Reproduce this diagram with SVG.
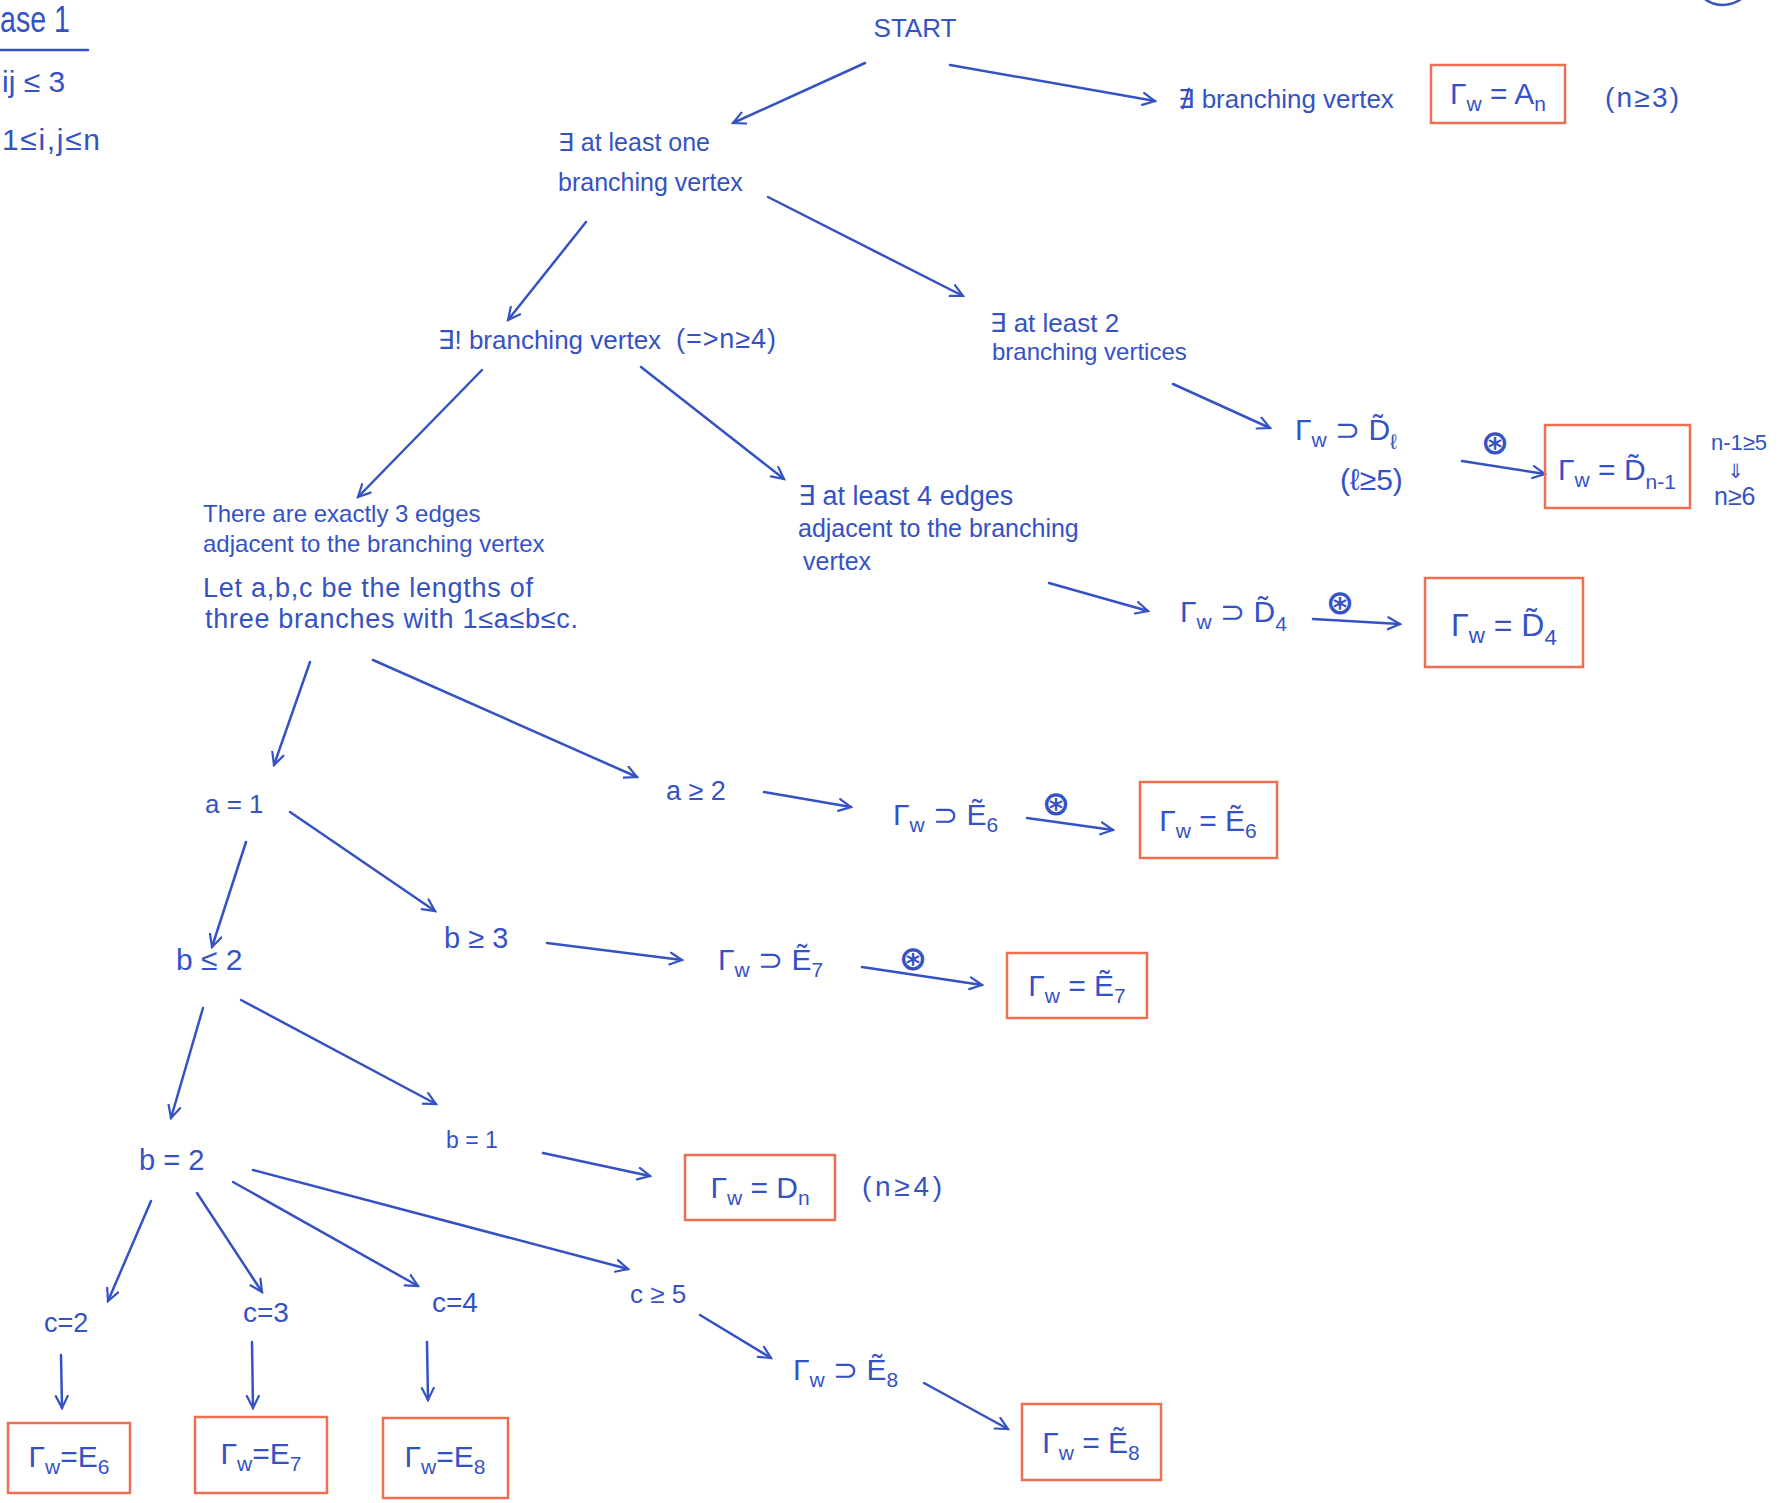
<svg xmlns="http://www.w3.org/2000/svg" width="1785" height="1503" viewBox="0 0 1785 1503">
<defs>
<style>
.t{font-family:"Liberation Sans","DejaVu Sans",sans-serif;fill:#3552c4}
.m{font-size:30px}
.s{font-size:70%}
.st{font-family:"DejaVu Sans",sans-serif;fill:#3552c4;font-size:34px;font-weight:bold}
.box{fill:none;stroke:#ee6f50;stroke-width:2.5}
.c{stroke:#3552c4;stroke-width:2.5;fill:none;stroke-linecap:round;marker-end:url(#ah)}
.ln{stroke:#3552c4;stroke-width:2.5;fill:none;stroke-linecap:round}
</style>
<marker id="ah" markerUnits="userSpaceOnUse" markerWidth="16" markerHeight="16" refX="13" refY="7" orient="auto">
<path d="M1,1 L13,7 L1,13" fill="none" stroke="#3552c4" stroke-width="2.2" stroke-linecap="round"/>
</marker>
</defs>
<rect width="1785" height="1503" fill="#ffffff"/>

<g id="case-header">
<text class="t" x="0" y="32" style="font-size:36px" textLength="70" lengthAdjust="spacingAndGlyphs">ase 1</text>
<line class="ln" x1="0" y1="50" x2="88" y2="50"/>
<text class="t" x="2" y="92" style="font-size:30px">ij ≤ 3</text>
<text class="t" x="2" y="150" style="font-size:30px" textLength="98">1≤i,j≤n</text>
<path class="ln" d="M1706,0 Q1722,10 1740,0"/>
</g>

<g id="connectors">
<line class="c" x1="865" y1="63" x2="733" y2="123"/>
<line class="c" x1="950" y1="65" x2="1155" y2="101"/>
<line class="c" x1="586" y1="222" x2="508" y2="320"/>
<line class="c" x1="768" y1="197" x2="963" y2="296"/>
<line class="c" x1="1173" y1="384" x2="1270" y2="428"/>
<line class="c" x1="1462" y1="461" x2="1545" y2="474"/>
<line class="c" x1="482" y1="370" x2="358" y2="497"/>
<line class="c" x1="641" y1="367" x2="784" y2="479"/>
<line class="c" x1="1049" y1="583" x2="1148" y2="611"/>
<line class="c" x1="1313" y1="619" x2="1400" y2="624"/>
<line class="c" x1="310" y1="662" x2="274" y2="765"/>
<line class="c" x1="373" y1="660" x2="637" y2="777"/>
<line class="c" x1="764" y1="792" x2="851" y2="807"/>
<line class="c" x1="1027" y1="818" x2="1113" y2="830"/>
<line class="c" x1="246" y1="842" x2="212" y2="947"/>
<line class="c" x1="290" y1="812" x2="435" y2="911"/>
<line class="c" x1="547" y1="943" x2="682" y2="960"/>
<line class="c" x1="862" y1="967" x2="982" y2="985"/>
<line class="c" x1="203" y1="1008" x2="171" y2="1118"/>
<line class="c" x1="241" y1="1000" x2="436" y2="1104"/>
<line class="c" x1="543" y1="1153" x2="650" y2="1176"/>
<line class="c" x1="151" y1="1201" x2="108" y2="1301"/>
<line class="c" x1="197" y1="1193" x2="262" y2="1292"/>
<line class="c" x1="233" y1="1182" x2="418" y2="1286"/>
<line class="c" x1="253" y1="1170" x2="628" y2="1269"/>
<line class="c" x1="61" y1="1355" x2="62" y2="1408"/>
<line class="c" x1="252" y1="1342" x2="253" y2="1408"/>
<line class="c" x1="427" y1="1342" x2="428" y2="1400"/>
<line class="c" x1="700" y1="1315" x2="771" y2="1358"/>
<line class="c" x1="924" y1="1383" x2="1008" y2="1429"/>
<text class="st" x="1495" y="454" text-anchor="middle">⊛</text>
<text class="st" x="1340" y="614" text-anchor="middle">⊛</text>
<text class="st" x="1056" y="815" text-anchor="middle">⊛</text>
<text class="st" x="913" y="970" text-anchor="middle">⊛</text>
</g>

<g id="start"><text class="t" x="915" y="37" text-anchor="middle" style="font-size:26px">START</text></g>

<g id="no-branching">
<text class="t" x="1178" y="108" style="font-size:26px">∄ branching vertex</text>
</g>
<g id="box-An">
<rect class="box" x="1431" y="65" width="134" height="58"/>
<text class="t m" x="1498" y="104" text-anchor="middle">Γ<tspan class="s" dy="7">w</tspan><tspan dy="-7"> = A</tspan><tspan class="s" dy="7">n</tspan></text>
<text class="t" x="1605" y="107" style="font-size:28px" textLength="74">(n≥3)</text>
</g>

<g id="at-least-one">
<text class="t" x="558" y="151" style="font-size:25px">∃ at least one</text>
<text class="t" x="558" y="191" style="font-size:25px">branching vertex</text>
</g>

<g id="unique-branching">
<text class="t" x="438" y="349" style="font-size:26px">∃! branching vertex</text>
<text class="t" x="676" y="348" style="font-size:27px" textLength="100">(=&gt;n≥4)</text>
</g>

<g id="at-least-two">
<text class="t" x="990" y="332" style="font-size:26px">∃ at least 2</text>
<text class="t" x="992" y="360" style="font-size:24px">branching vertices</text>
</g>

<g id="contains-Dl">
<text class="t m" x="1295" y="440">Γ<tspan class="s" dy="7">w</tspan><tspan dy="-7"> ⊃ D̃</tspan><tspan class="s" dy="9">ℓ</tspan></text>
<text class="t" x="1340" y="490" style="font-size:30px">(ℓ≥5)</text>
</g>
<g id="box-Dn1">
<rect class="box" x="1545" y="425" width="145" height="83"/>
<text class="t m" x="1617" y="480" text-anchor="middle">Γ<tspan class="s" dy="7">w</tspan><tspan dy="-7"> = D̃</tspan><tspan class="s" dy="9">n-1</tspan></text>
<text class="t" x="1711" y="450" style="font-size:22px">n-1≥5</text>
<text class="t" x="1736" y="478" text-anchor="middle" style="font-size:20px">⇓</text>
<text class="t" x="1714" y="505" style="font-size:25px">n≥6</text>
</g>

<g id="at-least-four">
<text class="t" x="798" y="505" style="font-size:27px">∃ at least 4 edges</text>
<text class="t" x="798" y="537" style="font-size:25px">adjacent to the branching</text>
<text class="t" x="803" y="570" style="font-size:25px">vertex</text>
</g>

<g id="contains-D4">
<text class="t m" x="1180" y="622">Γ<tspan class="s" dy="7">w</tspan><tspan dy="-7"> ⊃ D̃</tspan><tspan class="s" dy="9">4</tspan></text>
</g>
<g id="box-D4">
<rect class="box" x="1425" y="578" width="158" height="89"/>
<text class="t" x="1504" y="636" text-anchor="middle" style="font-size:32px">Γ<tspan class="s" dy="7">w</tspan><tspan dy="-7">  =  D̃</tspan><tspan class="s" dy="9">4</tspan></text>
</g>

<g id="exactly-three">
<text class="t" x="203" y="522" style="font-size:24px">There are exactly 3 edges</text>
<text class="t" x="203" y="552" style="font-size:24px">adjacent to the branching vertex</text>
<text class="t" x="203" y="597" style="font-size:27px" textLength="330">Let a,b,c be the lengths of</text>
<text class="t" x="205" y="628" style="font-size:27px" textLength="373">three branches with 1≤a≤b≤c.</text>
</g>

<g id="a-eq-1"><text class="t" x="205" y="813" style="font-size:26px">a = 1</text></g>
<g id="a-ge-2"><text class="t" x="666" y="800" style="font-size:27px">a ≥ 2</text></g>
<g id="contains-E6">
<text class="t m" x="893" y="825">Γ<tspan class="s" dy="7">w</tspan><tspan dy="-7"> ⊃ Ẽ</tspan><tspan class="s" dy="7">6</tspan></text>
</g>
<g id="box-E6t">
<rect class="box" x="1140" y="782" width="137" height="76"/>
<text class="t m" x="1208" y="831" text-anchor="middle">Γ<tspan class="s" dy="7">w</tspan><tspan dy="-7"> = Ẽ</tspan><tspan class="s" dy="7">6</tspan></text>
</g>

<g id="b-le-2"><text class="t" x="176" y="970" style="font-size:30px">b ≤ 2</text></g>
<g id="b-ge-3"><text class="t" x="444" y="948" style="font-size:29px">b ≥ 3</text></g>
<g id="contains-E7">
<text class="t m" x="718" y="970">Γ<tspan class="s" dy="7">w</tspan><tspan dy="-7"> ⊃ Ẽ</tspan><tspan class="s" dy="7">7</tspan></text>
</g>
<g id="box-E7t">
<rect class="box" x="1007" y="953" width="140" height="65"/>
<text class="t m" x="1077" y="996" text-anchor="middle">Γ<tspan class="s" dy="7">w</tspan><tspan dy="-7"> = Ẽ</tspan><tspan class="s" dy="7">7</tspan></text>
</g>

<g id="b-eq-2"><text class="t" x="139" y="1170" style="font-size:29px">b = 2</text></g>
<g id="b-eq-1"><text class="t" x="446" y="1148" style="font-size:23px">b = 1</text></g>
<g id="box-Dn">
<rect class="box" x="685" y="1155" width="150" height="65"/>
<text class="t m" x="760" y="1198" text-anchor="middle">Γ<tspan class="s" dy="7">w</tspan><tspan dy="-7"> = D</tspan><tspan class="s" dy="7">n</tspan></text>
<text class="t" x="862" y="1196" style="font-size:28px" textLength="80">(n≥4)</text>
</g>

<g id="c-eq-2"><text class="t" x="44" y="1332" style="font-size:27px">c=2</text></g>
<g id="c-eq-3"><text class="t" x="243" y="1322" style="font-size:28px">c=3</text></g>
<g id="c-eq-4"><text class="t" x="432" y="1312" style="font-size:28px">c=4</text></g>
<g id="c-ge-5"><text class="t" x="630" y="1303" style="font-size:26px">c ≥ 5</text></g>

<g id="box-E6">
<rect class="box" x="8" y="1423" width="122" height="70"/>
<text class="t m" x="69" y="1467" text-anchor="middle">Γ<tspan class="s" dy="7">w</tspan><tspan dy="-7">=E</tspan><tspan class="s" dy="7">6</tspan></text>
</g>
<g id="box-E7">
<rect class="box" x="195" y="1417" width="132" height="76"/>
<text class="t m" x="261" y="1464" text-anchor="middle">Γ<tspan class="s" dy="7">w</tspan><tspan dy="-7">=E</tspan><tspan class="s" dy="7">7</tspan></text>
</g>
<g id="box-E8">
<rect class="box" x="383" y="1418" width="125" height="80"/>
<text class="t m" x="445" y="1467" text-anchor="middle">Γ<tspan class="s" dy="7">w</tspan><tspan dy="-7">=E</tspan><tspan class="s" dy="7">8</tspan></text>
</g>

<g id="contains-E8">
<text class="t m" x="793" y="1380">Γ<tspan class="s" dy="7">w</tspan><tspan dy="-7"> ⊃ Ẽ</tspan><tspan class="s" dy="7">8</tspan></text>
</g>
<g id="box-E8t">
<rect class="box" x="1022" y="1404" width="139" height="76"/>
<text class="t m" x="1091" y="1453" text-anchor="middle">Γ<tspan class="s" dy="7">w</tspan><tspan dy="-7"> = Ẽ</tspan><tspan class="s" dy="7">8</tspan></text>
</g>
</svg>
